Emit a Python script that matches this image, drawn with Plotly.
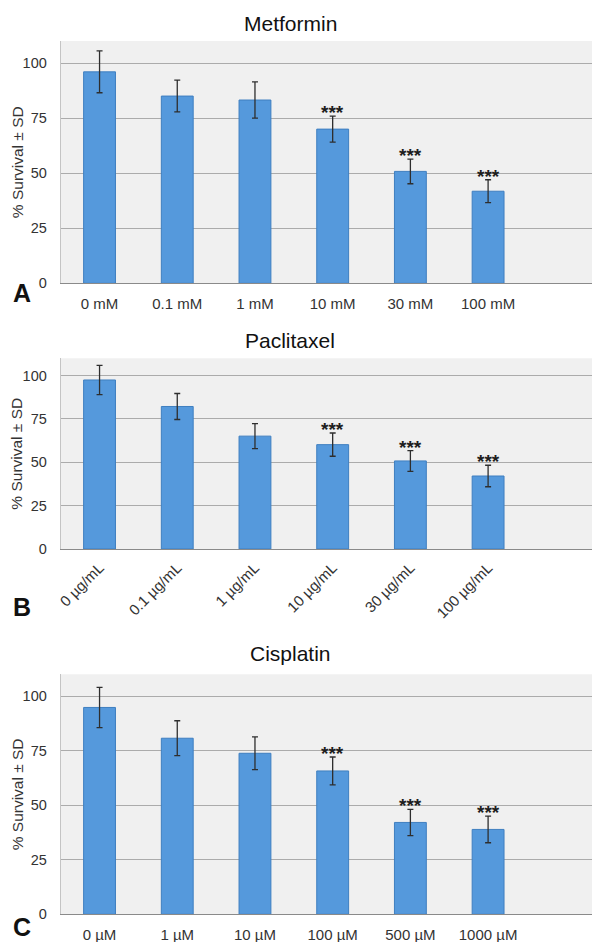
import plotly.graph_objects as go

# ---- data ----
metformin_labels = ["0 mM", "0.1 mM", "1 mM", "10 mM", "30 mM", "100 mM"]
metformin_values = [96.0, 85.0, 83.2, 70.0, 50.8, 41.8]
metformin_sd = [9.5, 7.2, 8.2, 5.9, 5.6, 5.2]
metformin_sig = ["", "", "", "***", "***", "***"]

paclitaxel_labels = ["0 µg/mL", "0.1 µg/mL", "1 µg/mL", "10 µg/mL", "30 µg/mL", "100 µg/mL"]
paclitaxel_values = [97.5, 82.2, 65.1, 60.2, 50.8, 42.1]
paclitaxel_sd = [8.4, 7.5, 7.2, 6.7, 6.0, 6.2]
paclitaxel_sig = ["", "", "", "***", "***", "***"]

cisplatin_labels = ["0 µM", "1 µM", "10 µM", "100 µM", "500 µM", "1000 µM"]
cisplatin_values = [94.8, 80.7, 73.8, 65.7, 42.1, 38.9]
cisplatin_sd = [9.2, 8.0, 7.5, 6.4, 6.0, 6.1]
cisplatin_sig = ["", "", "", "***", "***", "***"]

titles = ["Metformin", "Paclitaxel", "Cisplatin"]
panel_letters = ["A", "B", "C"]
y_ticks = [0, 25, 50, 75, 100]

# The page body has an 8px margin, so the figure is drawn 8px in from the
# window's top-left corner; work in window pixels and subtract the offset.
OFF = 8
W, H = 600 - OFF, 942 - OFF
FONT = "Liberation Sans, Arial, sans-serif"
BAR = "#5599dc"
BAR_LINE = "#3f7fc0"


def px_x(x):
    return (x - OFF) / W


def px_y(y):
    return 1 - (y - OFF) / H


panels = [
    (metformin_labels, metformin_values, metformin_sd, metformin_sig),
    (paclitaxel_labels, paclitaxel_values, paclitaxel_sd, paclitaxel_sig),
    (cisplatin_labels, cisplatin_values, cisplatin_sd, cisplatin_sig),
]

# window-pixel geometry of plot areas (top, bottom)
plot_px = [(41.0, 283.3), (358.3, 549.0), (674.3, 914.3)]
title_y_px = [23.3, 340.0, 653.0]
letter_y_px = [293.0, 607.0, 927.0]
x_left_px = 60.7

fig = go.Figure()
layout = dict(
    width=W, height=H,
    margin=dict(l=0, r=0, t=0, b=0, autoexpand=False),
    paper_bgcolor="white",
    plot_bgcolor="#f0f0f0",
    showlegend=False,
    font=dict(family=FONT, color="#404040"),
)
annotations = []

for i, (labels, vals, sd, sig) in enumerate(panels):
    n = i + 1
    xa = "x" if n == 1 else f"x{n}"
    ya = "y" if n == 1 else f"y{n}"
    fig.add_trace(go.Bar(
        x=labels, y=vals, xaxis=xa, yaxis=ya,
        marker=dict(color=BAR, line=dict(color=BAR_LINE, width=1)),
        error_y=dict(type="data", array=sd, visible=True, color="#2e2e2e",
                     thickness=1.3, width=3),
        width=0.41,
    ))
    top, bot = plot_px[i]
    xkey = "xaxis" if n == 1 else f"xaxis{n}"
    ykey = "yaxis" if n == 1 else f"yaxis{n}"
    layout[xkey] = dict(
        domain=[px_x(x_left_px), 1.0], anchor=ya, automargin=False,
        type="category", range=[-0.5, 6.44],
        showgrid=False, showline=True, linecolor="#8a8a8a", linewidth=1.3,
        ticks="outside", ticklen=7 if i != 1 else 3, tickcolor="rgba(0,0,0,0)",
        tickfont=dict(size=15, color="#333333", family=FONT),
        tickangle=-45 if i == 1 else 0,
        fixedrange=True,
    )
    layout[ykey] = dict(
        domain=[px_y(bot), px_y(top)], anchor=xa, automargin=False,
        range=[0, 110], tickvals=y_ticks,
        showgrid=True, gridcolor="#ababab", gridwidth=1.3,
        zeroline=False,
        showline=True, linecolor="#c4c4c4", linewidth=1,
        ticks="outside", ticklen=10, tickcolor="rgba(0,0,0,0)",
        tickfont=dict(size=14.5, color="#333333", family=FONT),
        fixedrange=True,
    )
    # title
    annotations.append(dict(
        text=titles[i], xref="paper", yref="paper",
        x=px_x(290), y=px_y(title_y_px[i]), xanchor="center", yanchor="middle",
        showarrow=False, font=dict(size=21, color="#111111", family=FONT),
    ))
    # y axis title
    annotations.append(dict(
        text="% Survival ± SD", xref="paper", yref="paper",
        x=px_x(17), y=px_y((top + bot) / 2), xanchor="center", yanchor="middle",
        textangle=-90, showarrow=False,
        font=dict(size=15.5, color="#333333", family=FONT),
    ))
    # panel letter
    annotations.append(dict(
        text="<b>" + panel_letters[i] + "</b>", xref="paper", yref="paper",
        x=px_x(22), y=px_y(letter_y_px[i]), xanchor="center", yanchor="middle",
        showarrow=False, font=dict(size=25, color="#111111", family=FONT),
    ))
    # significance stars
    for lab, v, s, g in zip(labels, vals, sd, sig):
        if g:
            annotations.append(dict(
                text="<b>" + g + "</b>", xref=xa, yref=ya, x=lab, y=v + s,
                xanchor="center", yanchor="bottom", yshift=-9,
                showarrow=False, font=dict(size=19, color="#1e1e1e", family=FONT),
            ))

layout["annotations"] = annotations
fig.update_layout(**layout)
fig.write_html("out.html")
